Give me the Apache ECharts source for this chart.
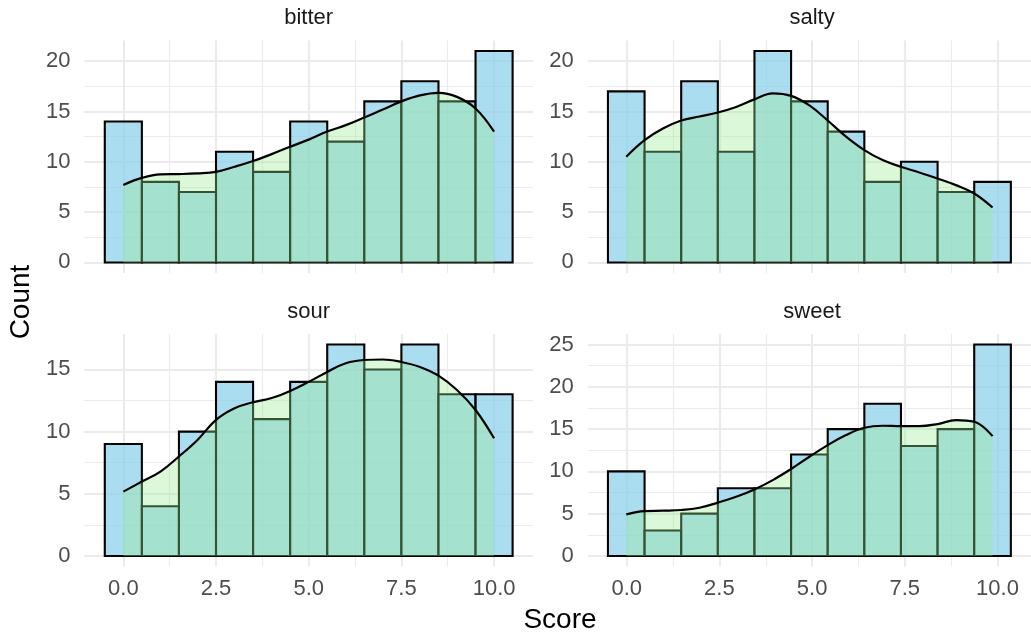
<!DOCTYPE html>
<html>
<head>
<meta charset="utf-8">
<script src="https://cdn.jsdelivr.net/npm/echarts@6/dist/echarts.min.js"></script>
<style>
html,body{margin:0;padding:0;background:#fff;}
#chart{width:1031px;height:639px;}
</style>
</head>
<body>
<div id="chart"></div>
<script>
// ---------------- data ----------------
const facetNames = ['bitter', 'salty', 'sour', 'sweet'];
const binCenters = [0, 1, 2, 3, 4, 5, 6, 7, 8, 9, 10];
const bitterCounts = [14, 8, 7, 11, 9, 14, 12, 16, 18, 16, 21];
const saltyCounts  = [17, 11, 18, 11, 21, 16, 13, 8, 10, 7, 8];
const sourCounts   = [9, 4, 10, 14, 11, 14, 17, 15, 17, 13, 13];
const sweetCounts  = [10, 3, 5, 8, 8, 12, 15, 18, 13, 15, 25];

const densityX = [0, 0.5, 1, 1.5, 2, 2.5, 3, 3.5, 4, 4.5, 5, 5.5, 6, 6.5, 7, 7.5, 8, 8.5, 9, 9.5, 10];
const bitterDensity = [7.7, 8.4, 8.75, 8.78, 8.85, 9.0, 9.5, 10.07, 10.76, 11.5, 12.2, 13.0, 13.64, 14.4, 15.2, 16.0, 16.6, 16.85, 16.45, 15.3, 13.0];
const saltyDensity  = [10.5, 12.15, 13.3, 14.1, 14.5, 14.9, 15.45, 16.2, 16.8, 16.55, 15.6, 14.1, 12.5, 11.16, 10.17, 9.5, 8.94, 8.34, 7.68, 6.85, 5.46];
const sourDensity   = [5.17, 5.98, 6.78, 8.0, 9.33, 10.94, 11.88, 12.36, 12.7, 13.27, 14.0, 14.8, 15.5, 15.76, 15.8, 15.6, 15.2, 14.5, 13.35, 11.74, 9.46];
const sweetDensity  = [4.92, 5.3, 5.35, 5.43, 5.7, 6.3, 7.0, 7.87, 8.97, 10.28, 11.73, 13.1, 14.3, 15.16, 15.4, 15.35, 15.35, 15.6, 16.06, 15.87, 14.17];

const xTickValues = [0, 2.5, 5, 7.5, 10];
const xTickLabels = ['0.0', '2.5', '5.0', '7.5', '10.0'];
const yTickStep = 5;

const xTitle = 'Score';
const yTitle = 'Count';

// ---------------- layout ----------------
const FONT = "'Liberation Sans', Arial, Helvetica, sans-serif";
const colLeft = [84.4, 587.8];
const rowTop = [40.5, 334];
const panelW = 448.6;
const panelH = 232.5;
const gridColor = '#EBEBEB';

const countsList = [bitterCounts, saltyCounts, sourCounts, sweetCounts];
const densityList = [bitterDensity, saltyDensity, sourDensity, sweetDensity];

// x range like ggplot (bins -0.5..10.5, 5% expansion)
const xLo0 = binCenters[0] - 0.5, xHi0 = binCenters[binCenters.length - 1] + 0.5;
const xPad = (xHi0 - xLo0) * 0.05;
const xMin = xLo0 - xPad, xMax = xHi0 + xPad;

const grids = [], xAxes = [], yAxes = [], series = [], graphics = [];

facetNames.forEach((name, i) => {
  const col = i % 2, row = Math.floor(i / 2);
  const left = colLeft[col], top = rowTop[row];
  const counts = countsList[i], dens = densityList[i];
  const cmax = Math.max(...counts, ...dens);
  const yMin = -0.05 * cmax, yMax = 1.05 * cmax;
  const yTickMax = Math.floor(cmax / yTickStep) * yTickStep;

  const px = v => left + (v - xMin) / (xMax - xMin) * panelW;
  const py = v => top + panelH - (v - yMin) / (yMax - yMin) * panelH;

  // grid for horizontal grid lines and y labels
  const gH = grids.length;
  grids.push({left: left, top: py(yTickMax), width: panelW, height: py(0) - py(yTickMax), containLabel: false});
  xAxes.push({gridIndex: gH, type: 'value', min: 0, max: 1, show: false});
  yAxes.push({
    gridIndex: gH, type: 'value', min: 0, max: yTickMax, interval: yTickStep,
    axisLine: {show: false}, axisTick: {show: false},
    minorTick: {show: false, splitNumber: 2},
    axisLabel: {color: '#4D4D4D', fontSize: 22, fontFamily: FONT, margin: 14},
    splitLine: {show: true, lineStyle: {color: gridColor, width: 2.2}},
    minorSplitLine: {show: true, lineStyle: {color: gridColor, width: 1.1}}
  });

  // grid for vertical grid lines and x labels
  const gV = grids.length;
  grids.push({left: px(xTickValues[0]), top: top, width: px(xTickValues[xTickValues.length - 1]) - px(xTickValues[0]), height: panelH});
  xAxes.push({
    gridIndex: gV, type: 'value', min: xTickValues[0], max: xTickValues[xTickValues.length - 1],
    interval: xTickValues[1] - xTickValues[0],
    axisLine: {show: false}, axisTick: {show: false},
    minorTick: {show: false, splitNumber: 2},
    axisLabel: {
      show: row === 1, color: '#4D4D4D', fontSize: 22, fontFamily: FONT, margin: 11,
      formatter: v => xTickLabels[xTickValues.indexOf(v)] ?? ''
    },
    splitLine: {show: true, lineStyle: {color: gridColor, width: 2.2}},
    minorSplitLine: {show: true, lineStyle: {color: gridColor, width: 1.1}}
  });
  yAxes.push({gridIndex: gV, type: 'value', min: 0, max: 1, show: false});

  // data grid
  const gD = grids.length;
  grids.push({left: left, top: top, width: panelW, height: panelH});
  xAxes.push({gridIndex: gD, type: 'value', min: xMin, max: xMax, show: false});
  yAxes.push({gridIndex: gD, type: 'value', min: yMin, max: yMax, show: false});

  series.push({
    type: 'custom',
    xAxisIndex: gD, yAxisIndex: gD,
    data: binCenters.map((c, k) => [c, counts[k]]),
    renderItem: (params, api) => {
      const x = api.value(0), y = api.value(1);
      const p0 = api.coord([x - 0.5, y]);
      const p1 = api.coord([x + 0.5, 0]);
      return {
        type: 'rect',
        shape: {x: p0[0], y: p0[1], width: p1[0] - p0[0], height: p1[1] - p0[1]},
        style: {fill: 'rgba(135,206,235,0.7)', stroke: '#000', lineWidth: 2.1}
      };
    },
    z: 2
  });
  series.push({
    type: 'line',
    xAxisIndex: gD, yAxisIndex: gD,
    data: densityX.map((x, k) => [x, dens[k]]),
    smooth: 0.4,
    symbol: 'none',
    lineStyle: {color: '#000', width: 2.2},
    areaStyle: {color: 'rgba(152,236,145,0.5)', origin: 0},
    z: 3
  });

  // strip label
  graphics.push({
    type: 'text', silent: true,
    style: {text: name, x: left + panelW / 2, y: top - 22.5, align: 'center', verticalAlign: 'middle',
      font: '22px ' + FONT, fill: '#1A1A1A'}
  });
});

graphics.push({
  type: 'text', silent: true,
  style: {text: xTitle, x: 560, y: 620.5, align: 'center', verticalAlign: 'middle', font: '28px ' + FONT, fill: '#000'}
});
graphics.push({
  type: 'text', silent: true, x: 21, y: 302, rotation: Math.PI / 2,
  style: {text: yTitle, x: 0, y: 0, align: 'center', verticalAlign: 'middle', font: '28px ' + FONT, fill: '#000'}
});

const chart = echarts.init(document.getElementById('chart'), null, {renderer: 'canvas'});
chart.setOption({
  animation: false,
  backgroundColor: '#fff',
  grid: grids,
  xAxis: xAxes,
  yAxis: yAxes,
  series: series,
  graphic: graphics
});
</script>
</body>
</html>
